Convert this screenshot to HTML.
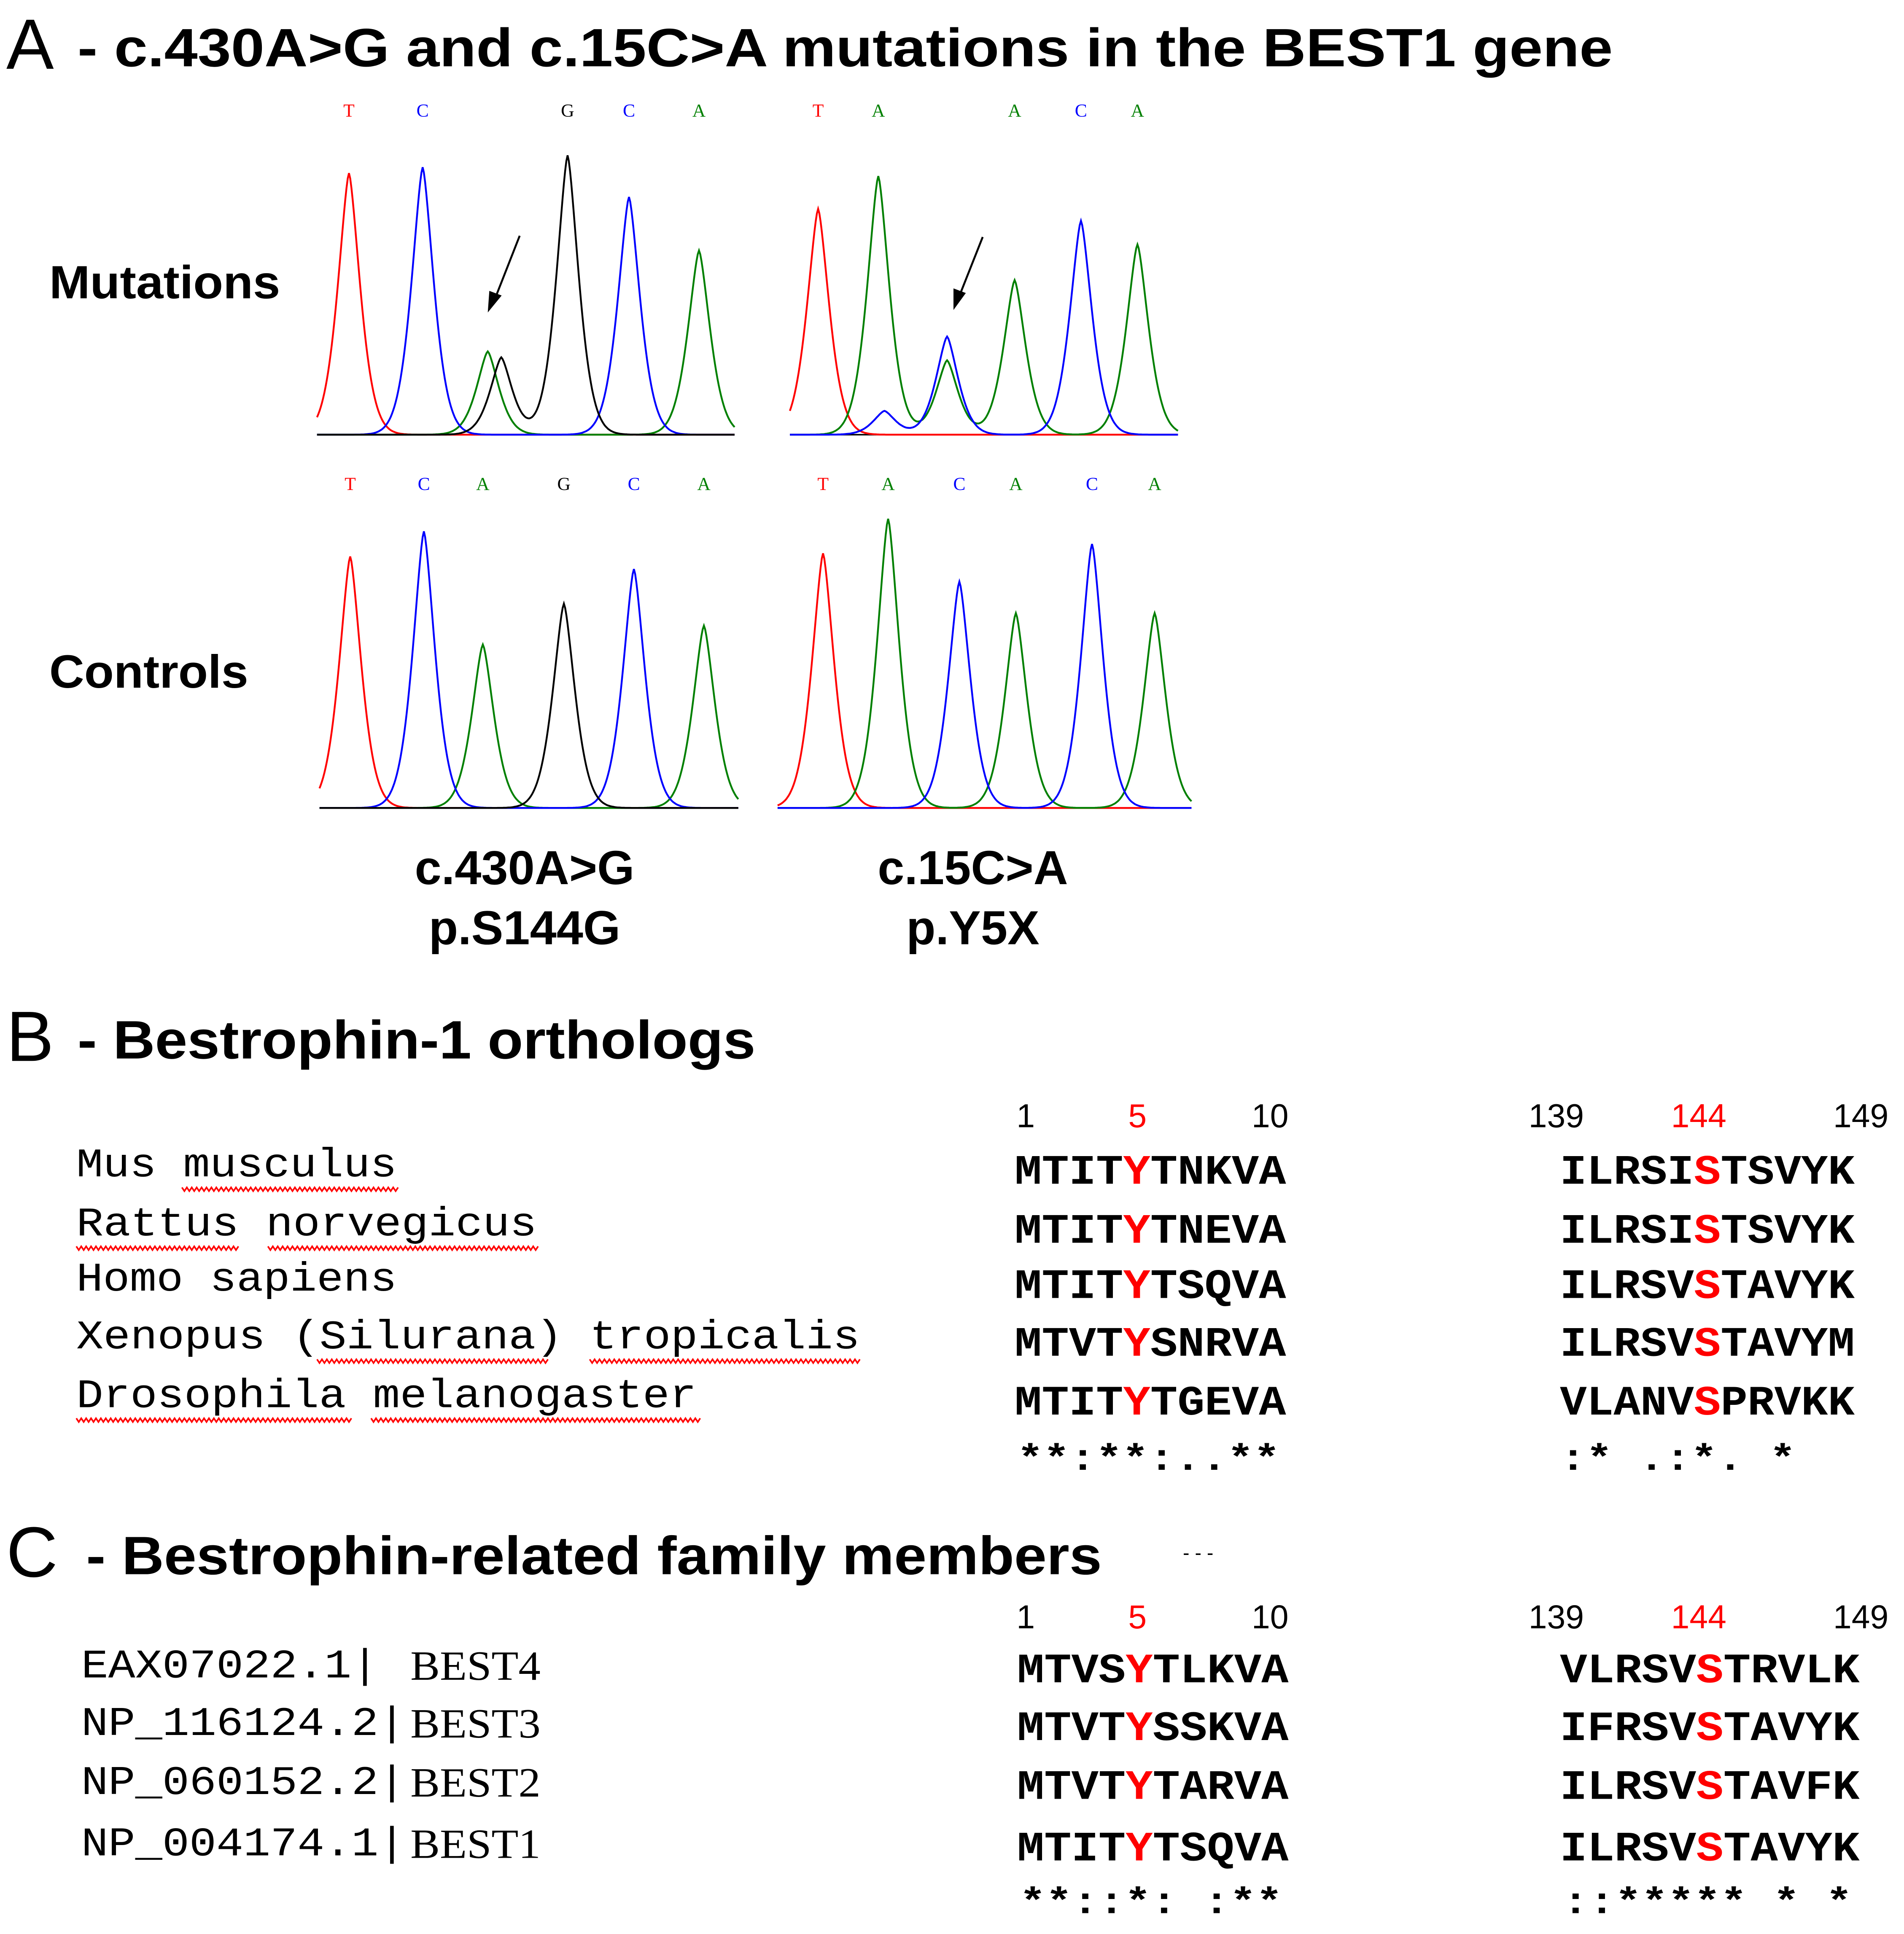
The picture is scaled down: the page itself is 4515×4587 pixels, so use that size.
<!DOCTYPE html>
<html><head><meta charset="utf-8">
<style>
html,body{margin:0;padding:0;background:#fff;}
svg{display:block;}
.sans{font-family:"Liberation Sans",Arial,sans-serif;}
.mono{font-family:"Liberation Mono","DejaVu Sans Mono",monospace;}
.serif{font-family:"Liberation Serif",serif;}
</style></head>
<body>
<svg id="fig" width="4515" height="4587" viewBox="0 0 1550 1575" xmlns="http://www.w3.org/2000/svg">
<g id="panelA">
<text class="sans" x="5" y="56" font-size="58">A</text>
<text class="sans" x="63" y="54" font-size="44" font-weight="bold" textLength="1250" lengthAdjust="spacingAndGlyphs">- c.430A&gt;G and c.15C&gt;A mutations in the BEST1 gene</text>
<text class="sans" x="40" y="243" font-size="38" font-weight="bold" textLength="188" lengthAdjust="spacingAndGlyphs">Mutations</text>
<text class="sans" x="40" y="560" font-size="38" font-weight="bold" textLength="162" lengthAdjust="spacingAndGlyphs">Controls</text>
<text class="sans" x="427" y="720" font-size="39" font-weight="bold" text-anchor="middle">c.430A&gt;G</text>
<text class="sans" x="427" y="769" font-size="39" font-weight="bold" text-anchor="middle">p.S144G</text>
<text class="sans" x="792" y="720" font-size="39" font-weight="bold" text-anchor="middle">c.15C&gt;A</text>
<text class="sans" x="792" y="769" font-size="39" font-weight="bold" text-anchor="middle">p.Y5X</text>
<g id="chroms"></g>
<g stroke="#000" stroke-width="1.6">
<line x1="423" y1="192" x2="403" y2="243"/><polygon points="398,252 399,238 407,241" fill="#000"/></g>
<g stroke="#000" stroke-width="1.6">
<line x1="800" y1="193" x2="781" y2="241"/><polygon points="777,250 777,236 785,239" fill="#000"/></g>
</g>

<g id="panelB">
<text class="sans" x="5" y="864" font-size="58">B</text>
<text class="sans" x="63" y="862" font-size="44" font-weight="bold" textLength="552" lengthAdjust="spacingAndGlyphs">- Bestrophin-1 orthologs</text>
</g>
<g id="panelC">
<text class="sans" x="5" y="1284" font-size="58">C</text>
<text class="sans" x="70" y="1282" font-size="44" font-weight="bold" textLength="827" lengthAdjust="spacingAndGlyphs">- Bestrophin-related family members</text>
<text class="sans" x="963" y="1270" font-size="16">- - -</text>
</g>
<g id="aligns"></g>
</svg>
<script>
// ---- chromatogram data (peak center in scan units, height as signal 0-1) ----
const mutLeftPos   = [26, 86, 139, 150, 204, 254, 311];
const mutLeftH     = [0.88, 0.90, 0.28, 0.26, 0.94, 0.80, 0.62];
const mutLeftCol   = ['r','b','g','k','k','b','g'];
const mutRightPos  = [23, 72, 77, 128, 128, 183, 237, 283];
const mutRightH    = [0.76, 0.87, 0.08, 0.33, 0.25, 0.52, 0.72, 0.64];
const mutRightCol  = ['r','g','b','b','g','g','b','g'];
const ctlLeftPos   = [25, 85, 133, 199, 256, 313];
const ctlLeftH     = [0.80, 0.88, 0.52, 0.65, 0.76, 0.58];
const ctlLeftCol   = ['r','b','g','k','b','g'];
const ctlRightPos  = [37, 90, 148, 194, 256, 307];
const ctlRightH    = [0.81, 0.92, 0.72, 0.62, 0.84, 0.62];
const ctlRightCol  = ['r','g','b','g','b','g'];
const mutLeftBases  = ['T','C','','G','C','A'];
const mutLeftBasePos= [26, 86, 0, 204, 254, 311];
const mutRightBases = ['T','A','A','C','A'];
const mutRightBasePos=[23, 72, 183, 237, 283];
const ctlLeftBases  = ['T','C','A','G','C','A'];
const ctlLeftBasePos= [25, 85, 133, 199, 256, 313];
const ctlRightBases = ['T','A','C','A','C','A'];
const ctlRightBasePos=[37, 90, 148, 194, 256, 307];

const colors = {r:'#ff0000', g:'#008000', b:'#0000ff', k:'#000000'};
const NS='http://www.w3.org/2000/svg';
const chroms=document.getElementById('chroms');
function mk(tag, attrs, parent){const e=document.createElementNS(NS,tag);for(const k in attrs)e.setAttribute(k,attrs[k]);parent.appendChild(e);return e;}

function shape(dx){ // sharp-topped smooth peak
  const a=Math.abs(dx)/24;
  return Math.exp(-Math.pow(a,1.5)*2.4);
}
function drawChrom(name, left, width, base, top, pos, h, col, bases, bpos, labelY){
  const g=mk('g',{},chroms);
  
  
  const xs=v=>left+v;
  const ys=v=>base-(base-top)*v;
  const bl=mk('line',{x1:left,x2:left+width,y1:base,y2:base,stroke:'#000','stroke-width':1.2},g);
  
  
  ['r','g','b','k'].forEach(c=>{
    const idx=pos.map((p,i)=>i).filter(i=>col[i]===c);
    if(!idx.length) return;
    let d='';
    for(let x=0;x<=width;x+=1){
      let v=0;
      idx.forEach(i=>{v+=h[i]*shape(x-pos[i]);});
      d+=(x?'L':'M')+xs(x).toFixed(1)+','+ys(v).toFixed(1);
    }
    const p=mk('path',{d:d,fill:'none',stroke:colors[c],'stroke-width':1.5},g);
    
    
  });
  bases.forEach((b,i)=>{
    if(!b) return;
    const t=mk('text',{x:xs(bpos[i]),y:labelY,'font-size':15,'text-anchor':'middle',fill:colors[col[pos.indexOf(bpos[i])]]||'#000','class':'serif'},g);
    t.textContent=b;
    
    
  });
}
drawChrom('chromatogram-mutation-left',258,340,354,112,mutLeftPos,mutLeftH,mutLeftCol,mutLeftBases,mutLeftBasePos,95);
drawChrom('chromatogram-mutation-right',643,316,354,112,mutRightPos,mutRightH,mutRightCol,mutRightBases,mutRightBasePos,95);
drawChrom('chromatogram-control-left',260,341,658,402,ctlLeftPos,ctlLeftH,ctlLeftCol,ctlLeftBases,ctlLeftBasePos,399);
drawChrom('chromatogram-control-right',633,337,658,402,ctlRightPos,ctlRightH,ctlRightCol,ctlRightBases,ctlRightBasePos,399);

// ---- alignment data ----
const speciesNames = ['Mus  musculus','Rattus  norvegicus','Homo  sapiens','Xenopus  (Silurana)  tropicalis','Drosophila  melanogaster'];
const orthoLeft  = ['MTITYTNKVA','MTITYTNEVA','MTITYTSQVA','MTVTYSNRVA','MTITYTGEVA'];
const orthoRight = ['ILRSISTSVYK','ILRSISTSVYK','ILRSVSTAVYK','ILRSVSTAVYM','VLANVSPRVKK'];
const orthoCons  = ['**:**:..**', ':*  .:*. *'];
const famIds     = ['EAX07022.1|','NP_116124.2|','NP_060152.2|','NP_004174.1|'];
const famNames   = ['BEST4','BEST3','BEST2','BEST1'];
const famLeft    = ['MTVSYTLKVA','MTVTYSSKVA','MTVTYTARVA','MTITYTSQVA'];
const famRight   = ['VLRSVSTRVLK','IFRSVSTAVYK','ILRSVSTAVFK','ILRSVSTAVYK'];
const famCons    = ['**::*: :**', '::***** * *'];
const leftTicks  = ['1','5','10'];
const rightTicks = ['139','144','149'];

const al=document.getElementById('aligns');
function txt(x,y,s,size,cls,extra,name){
  const t=mk('text',Object.assign({x:x,y:y,'font-size':size,'class':cls},extra||{}),al);
  t.textContent=s;
  
  
  return t;
}
function seq(x,y,s,redIdx,len,name){
  const t=mk('text',{x:x,y:y,'font-size':34,'class':'mono','font-weight':'bold',textLength:len,lengthAdjust:'spacingAndGlyphs'},al);
  
  
  for(let i=0;i<s.length;i++){
    const sp=mk('tspan',{},t); sp.textContent=s[i];
    if(i===redIdx) sp.setAttribute('fill','#ff0000');
  }
}
function ticks(y){
  const lx=[835,926,1034], rx=[1267,1383,1515];
  leftTicks.forEach((s,i)=>txt(lx[i],y,s,27,'sans',{'text-anchor':'middle',fill:i===1?'#ff0000':'#000'},'position-tick'));
  rightTicks.forEach((s,i)=>txt(rx[i],y,s,27,'sans',{'text-anchor':'middle',fill:i===1?'#ff0000':'#000'},'position-tick'));
}
ticks(918);
const rowYB=[958,1006,1051,1098,1146];
const nameEnds=[323,437,323,700,567];
const waves=[[[148,323]],[[62,193],[218,437]],[],[[258,443],[480,700]],[[62,283],[302,567]]];
speciesNames.forEach((n,i)=>{
  txt(62,rowYB[i],n,33,'mono',{textLength:nameEnds[i]-62,lengthAdjust:'spacingAndGlyphs'},'species-name');
  waves[i].forEach(w=>{
    let d='M'+w[0]+','+(rowYB[i]+9);
    for(let x=w[0];x<w[1];x+=4) d+=' L'+(x+2)+','+(rowYB[i]+12)+' L'+(x+4)+','+(rowYB[i]+9);
    const p=mk('path',{d:d,fill:'none',stroke:'#ff0000','stroke-width':1.3},al);
    
    
  });
  seq(826,rowYB[i]+6,orthoLeft[i],4,221,'ortholog-seq-left');
  seq(1270,rowYB[i]+6,orthoRight[i],5,240,'ortholog-seq-right');
});
txt(828,1197,orthoCons[0],30,'mono',{textLength:214,lengthAdjust:'spacingAndGlyphs','font-weight':'bold'},'conservation-left');
txt(1270,1197,orthoCons[1],30,'mono',{textLength:192,lengthAdjust:'spacingAndGlyphs','font-weight':'bold'},'conservation-right');

ticks(1326);
const rowYC=[1368,1415,1463,1513];
famIds.forEach((n,i)=>{
  txt(66,rowYC[i]-2,n,33,'mono',{textLength:n.length*22,lengthAdjust:'spacingAndGlyphs'},'accession-id');
  txt(334,rowYC[i],famNames[i],34,'serif',{textLength:106,lengthAdjust:'spacingAndGlyphs'},'gene-name');
  seq(828,rowYC[i]+2,famLeft[i],4,221,'family-seq-left');
  seq(1270,rowYC[i]+2,famRight[i],5,244,'family-seq-right');
});
txt(830,1558,famCons[0],30,'mono',{textLength:214,lengthAdjust:'spacingAndGlyphs','font-weight':'bold'},'family-conservation-left');
txt(1272,1558,famCons[1],30,'mono',{textLength:236,lengthAdjust:'spacingAndGlyphs','font-weight':'bold'},'family-conservation-right');
</script>
</body></html>
